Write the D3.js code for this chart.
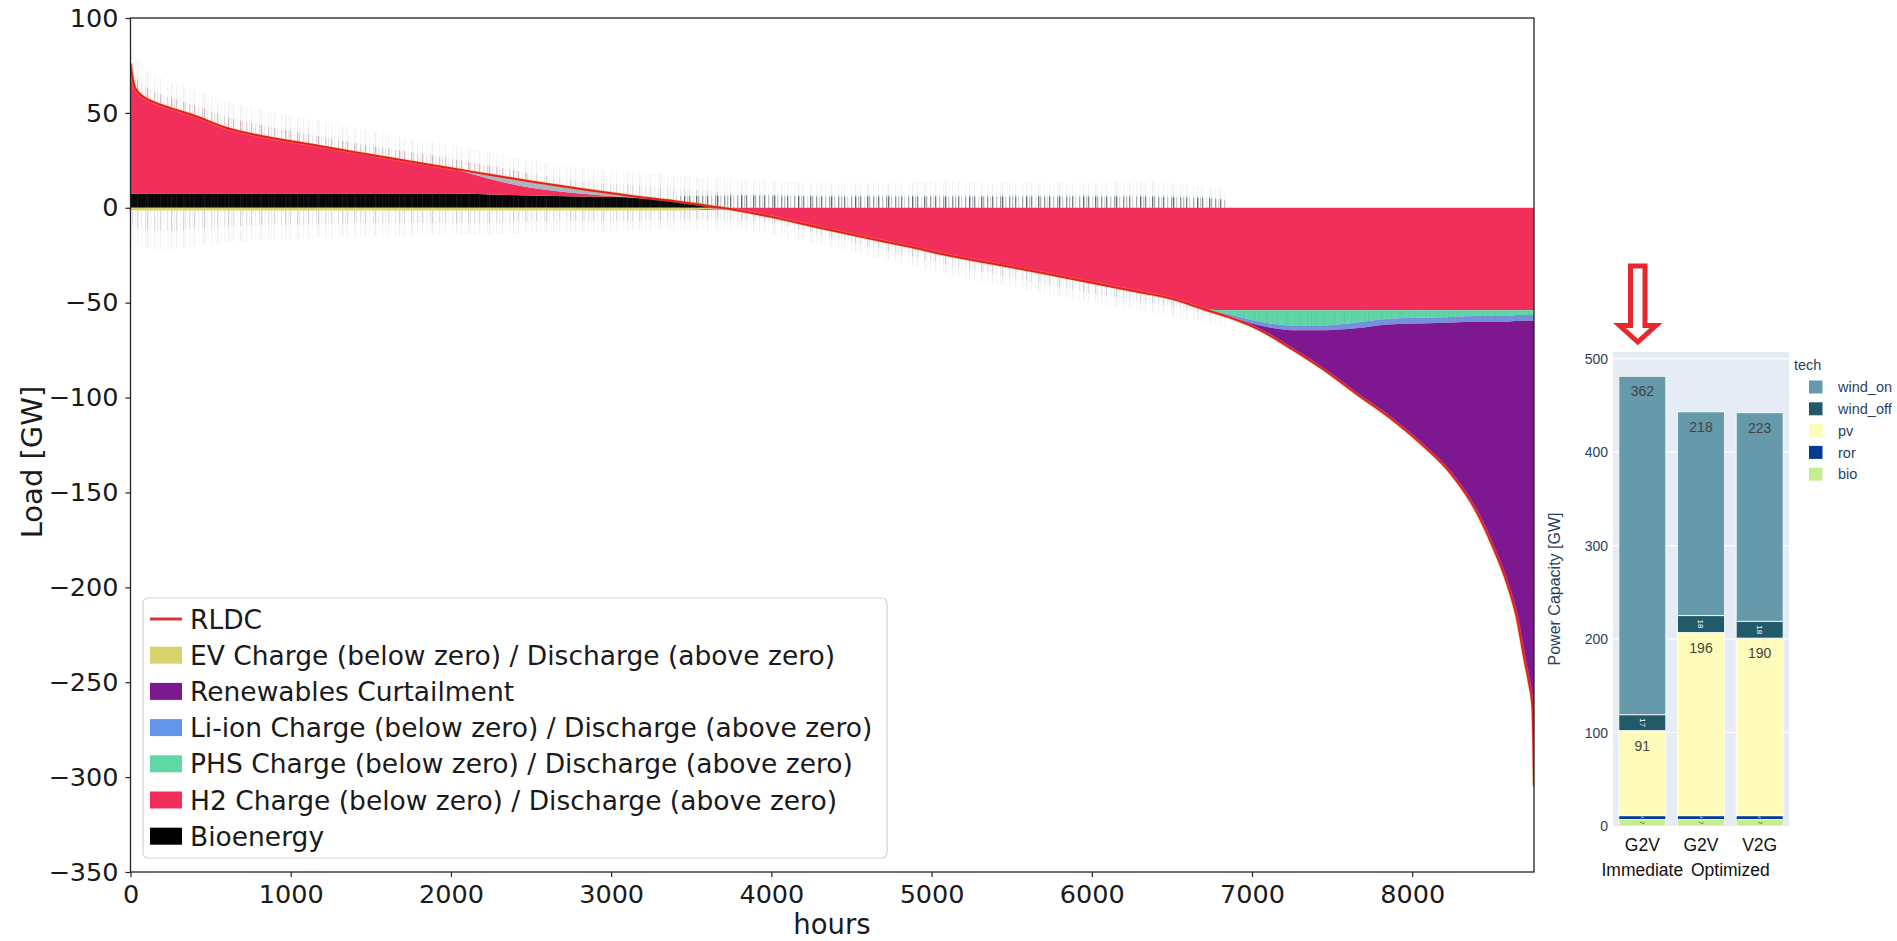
<!DOCTYPE html>
<html><head><meta charset="utf-8">
<script src="https://cdn.jsdelivr.net/npm/d3@7"></script>
<style>body{margin:0;background:#fff;} svg{display:block;}</style>
</head><body>
<svg id="c" width="1897" height="941"></svg>
<script>
// ---------------- LEFT CHART DATA ----------------
const hours = [0,10,30,80,150,250,400,600,850,1100,1400,1700,2000,2250,2500,2800,3100,3400,3750,4000,4300,4600,4850,5100,5400,5700,6000,6300,6500,6700,6850,7050,7250,7450,7650,7850,8050,8250,8400,8500,8600,8650,8700,8730,8750,8760];
const rldc = [76,70,63,58.5,55.5,52.5,48.5,42,37.3,33.7,29.3,25,20.8,17.3,13.8,10,6.5,3.5,-0.8,-4.8,-10.5,-16,-20.3,-25,-29.8,-34.5,-39.5,-44.5,-48,-53.5,-57.5,-64.5,-74.5,-85.5,-98,-110,-124,-141,-160,-178,-200,-215,-238,-251,-263,-305];
// positive side (stacked upward from zero)
const bioenergy   = [7.5,7.5,7.5,7.5,7.5,7.5,7.5,7.5,7.5,7.5,7.5,7.5,7.5,7,6.5,6,5.5,3.5,0,0,0,0,0,0,0,0,0,0,0,0,0,0,0,0,0,0,0,0,0,0,0,0,0,0,0,0];
const h2Discharge = [68.5,62.5,55.5,51,48,45,41,34.5,29.8,26.2,21.8,17.5,13.3,8,4,1.5,0,0,0,0,0,0,0,0,0,0,0,0,0,0,0,0,0,0,0,0,0,0,0,0,0,0,0,0,0,0];
const storageDischarge = [0,0,0,0,0,0,0,0,0,0,0,0,0,2.3,3.3,2.5,1,0,0,0,0,0,0,0,0,0,0,0,0,0,0,0,0,0,0,0,0,0,0,0,0,0,0,0,0,0];
// negative side (stacked downward from zero)
const evCharge    = [-1.5,-1.5,-1.5,-1.5,-1.5,-1.5,-1.5,-1.5,-1.5,-1.5,-1.5,-1.5,-1.5,-1.5,-1.5,-1.5,-1.5,-1.5,0,0,0,0,0,0,0,0,0,0,0,0,0,0,0,0,0,0,0,0,0,0,0,0,0,0,0,0];
const h2Charge    = [0,0,0,0,0,0,0,0,0,0,0,0,0,0,0,0,0,0,-0.8,-4.8,-10.5,-16,-20.3,-25,-29.8,-34.5,-39.5,-44.5,-48,-53.5,-54,-54,-54,-54,-54,-54,-54,-54,-54,-54,-54,-54,-54,-54,-54,-54];
const phsCharge   = [0,0,0,0,0,0,0,0,0,0,0,0,0,0,0,0,0,0,0,0,0,0,0,0,0,0,0,0,0,0,-2,-6,-8,-8,-6.5,-4.5,-4,-3.5,-3,-3,-3,-2.5,-2.5,-2.5,-2.5,-2.5];
const liionCharge = [0,0,0,0,0,0,0,0,0,0,0,0,0,0,0,0,0,0,0,0,0,0,0,0,0,0,0,0,0,0,-1,-2,-2.5,-2.5,-3,-3,-3,-3,-3,-3,-3,-3,-3,-3,-3,-3];
const curtailment = [0,0,0,0,0,0,0,0,0,0,0,0,0,0,0,0,0,0,0,0,0,0,0,0,0,0,0,0,0,0,-0.5,-2.5,-10,-21,-34.5,-48.5,-63,-80.5,-100,-118,-140,-155.5,-178.5,-191.5,-203.5,-245.5];
// envelopes of the hourly spikes
const spikeTopFar  = [86,84,80,74,70,66,62,56,51,47,42,37,33,29,25,21,19,17,15,14,13,13,13,14,13,13,13,14,13,11,9,null,null,null,null,null,null,null,null,null,null,null,null,null,null,null];
const spikeTopNear = [80,76,70,65,61,58,54,48,43,39,34,30,26,22,18,14,12,10,8,7,7,7,7,7,7,7,7,7,7,6,5,null,null,null,null,null,null,null,null,null,null,null,null,null,null,null];
const bioSpikes    = [null,null,null,null,null,null,null,null,null,null,null,null,null,null,null,null,null,6,6.5,6.5,6,6,6,6,6,6,6,6,5.5,5,4,null,null,null,null,null,null,null,null,null,null,null,null,null,null,null];
const spikeLowNear = [-8,-9,-10,-11,-12,-12,-11,-10,-9,-9,-8,-8,-8,-8,-7,-7,-7,-6,-6,-8,-14,-20,-25,-30,-35,-40,-45,-49,-52,-56,-59,null,null,null,null,null,null,null,null,null,null,null,null,null,null,null];
const spikeLowFar  = [-14,-16,-18,-20,-22,-22,-20,-18,-17,-16,-15,-15,-14,-14,-13,-13,-12,-12,-11,-14,-19,-25,-30,-35,-40,-45,-50,-54,-57,-60,-62,null,null,null,null,null,null,null,null,null,null,null,null,null,null,null];
const yTicks = [100,50,0,-50,-100,-150,-200,-250,-300,-350];
const xTicks = [0,1000,2000,3000,4000,5000,6000,7000,8000];
const legendLabels = ["RLDC","EV Charge (below zero) / Discharge (above zero)","Renewables Curtailment","Li-ion Charge (below zero) / Discharge (above zero)","PHS Charge (below zero) / Discharge (above zero)","H2 Charge (below zero) / Discharge (above zero)","Bioenergy"];

// ---------------- RIGHT CHART DATA ----------------
const scenarios = ["G2V Immediate","G2V Optimized","V2G Optimized"];
const scenarioTop = ["G2V","G2V","V2G"];
const techs = ["bio","ror","pv","wind_off","wind_on"];
const bio = [7,7,7];
const ror = [4,4,4];
const pv = [91,196,190];
const wind_off = [17,18,18];
const wind_on = [362,218,223];
const capTicks = [0,100,200,300,400,500];
const legendTechs = ["wind_on","wind_off","pv","ror","bio"];

// ---------------- DRAW ----------------
const svg = d3.select("#c");
svg.append("rect").attr("width",1897).attr("height",941).attr("fill","#fff");
const defs = svg.append("defs");
// hairline texture for the hourly spikes
function hairPattern(id, color){
  const p = defs.append("pattern").attr("id",id).attr("patternUnits","userSpaceOnUse").attr("width",57).attr("height",8);
  const offs = [0,3,5,9,12,14,18,21,23,27,31,33,36,40,43,46,49,53];
  const ops  = [0.9,0.3,0.65,0.15,0.8,0.4,0.55,0.2,0.75,0.3,0.5,0.85,0.25,0.6,0.35,0.7,0.2,0.45];
  offs.forEach((o,i)=>p.append("rect").attr("x",o).attr("y",0).attr("width",1.3).attr("height",8).attr("fill",color).attr("opacity",ops[i]));
}
hairPattern("hGray","#7b8794");
hairPattern("hDark","#1f3038");
hairPattern("hRed","#d0506f");

const FONT = "DejaVu Sans, Verdana, sans-serif";
const x = d3.scaleLinear().domain([0,8760]).range([130.5,1534]);
const y = d3.scaleLinear().domain([-350,100]).range([872,18]);
const idx = d3.range(hours.length);

const cum = (arrs) => idx.map(i => arrs.reduce((s,a)=>s+a[i],0));
const zero = idx.map(()=>0);
const posBio = cum([bioenergy]);
const posH2 = cum([bioenergy,h2Discharge]);
const posSt = cum([bioenergy,h2Discharge,storageDischarge]);
const negEv = cum([evCharge]);
const negH2 = cum([evCharge,h2Charge]);
const negPhs = cum([evCharge,h2Charge,phsCharge]);
const negLi = cum([evCharge,h2Charge,phsCharge,liionCharge]);
const negCu = cum([evCharge,h2Charge,phsCharge,liionCharge,curtailment]);

const gL = svg.append("g");
const clip = defs.append("clipPath").attr("id","plotclip");
clip.append("rect").attr("x",130.5).attr("y",18).attr("width",1403.5).attr("height",854);
const gP = gL.append("g").attr("clip-path","url(#plotclip)");

function band(lo, hi, fill, opacity){
  const a = d3.area().defined(i=>lo[i]!=null && hi[i]!=null).curve(d3.curveMonotoneX)
    .x(i=>x(hours[i])).y0(i=>y(lo[i])).y1(i=>y(hi[i]));
  gP.append("path").attr("d",a(idx)).attr("fill",fill).attr("opacity",opacity==null?1:opacity);
}
// spikes around the stacks
const topLower = idx.map(i => spikeTopFar[i]==null?null:Math.max(posSt[i],0));
band(topLower, spikeTopFar, "url(#hGray)", 0.16);
band(topLower, spikeTopNear, "url(#hGray)", 0.28);
band(topLower.map((v,i)=>i<15?v:null), spikeTopNear.map((v,i)=>i<15?v:null), "url(#hRed)", 0.3);
const lowUpper = idx.map(i => spikeLowFar[i]==null?null:(i<18?negEv[i]:rldc[i]));
band(spikeLowFar, lowUpper, "url(#hGray)", 0.16);
band(spikeLowNear, lowUpper, "url(#hGray)", 0.3);

// stacked series
band(zero, posBio, "#050505");
band(posBio, posH2, "#f22e5a");
band(posH2, posSt, "#9aa9bd", 0.85);
band(negEv, zero, "#d8d36c");
band(negH2, negEv, "#f22e5a");
band(negPhs, negH2, "#5ed8a6");
band(negLi, negPhs, "#7393e0");
band(negCu, negLi, "#7e1891");
// storage streaks across the PHS/Li-ion strip
band(negLi, negPhs, "url(#hGray)", 0.3);
band(negPhs, negH2, "url(#hGray)", 0.25);
// bioenergy spikes in the mid range
band(idx.map(i=>bioSpikes[i]==null?null:0), bioSpikes, "url(#hDark)", 0.75);
// gray streaks within the black band
band(zero.map((v,i)=>i<18?v:null), posBio.map((v,i)=>i<18?v:null), "url(#hGray)", 0.18);

// RLDC line
const line = d3.line().curve(d3.curveMonotoneX).x(i=>x(hours[i])).y(i=>y(rldc[i]));
gP.append("path").attr("d",line(idx)).attr("fill","none").attr("stroke","#f0a040").attr("stroke-width",3.4).attr("opacity",0.45);
gP.append("path").attr("d",line(idx)).attr("fill","none").attr("stroke","#e3201f").attr("stroke-width",2);

// axes
const fmt = d => d<0 ? "\u2212"+Math.abs(d) : String(d);
const ax = gL.append("g").attr("transform","translate(130.5,0)")
  .call(d3.axisLeft(y).tickValues(yTicks).tickFormat(fmt).tickSizeInner(5).tickSizeOuter(0).tickPadding(7));
const bx = gL.append("g").attr("transform","translate(0,872)")
  .call(d3.axisBottom(x).tickValues(xTicks).tickFormat(fmt).tickSizeInner(5).tickSizeOuter(0).tickPadding(8));
[ax,bx].forEach(g=>{
  g.select(".domain").remove();
  g.selectAll("line").attr("stroke","#222").attr("stroke-width",1.2);
  g.selectAll("text").attr("fill","#1a1a1a").style("font-family",FONT).style("font-size","25.5px");
});
gL.append("rect").attr("x",130.5).attr("y",18).attr("width",1403.5).attr("height",854)
  .attr("fill","none").attr("stroke","#222").attr("stroke-width",1.3);
gL.append("text").attr("transform","translate(32,462) rotate(-90)").attr("text-anchor","middle")
  .attr("dy","0.35em").style("font-family",FONT).style("font-size","29px").attr("fill","#1a1a1a").text("Load [GW]");
gL.append("text").attr("x",832).attr("y",934).attr("text-anchor","middle")
  .style("font-family",FONT).style("font-size","27.5px").attr("fill","#1a1a1a").text("hours");

// legend
const legColors = ["#d0383a","#d8d36c","#7e1891","#6495ed","#5ed8a6","#f22e5a","#000000"];
const lg = gL.append("g");
lg.append("rect").attr("x",143).attr("y",598).attr("width",744).attr("height",260).attr("rx",5)
  .attr("fill","#fff").attr("fill-opacity",0.85).attr("stroke","#d6d6d6").attr("stroke-width",1.2);
legendLabels.forEach((t,i)=>{
  const cy = 619 + i*36.2;
  if(i===0){
    lg.append("line").attr("x1",150).attr("x2",182).attr("y1",cy).attr("y2",cy).attr("stroke",legColors[i]).attr("stroke-width",3);
  } else {
    lg.append("rect").attr("x",150).attr("y",cy-8.5).attr("width",32).attr("height",17).attr("fill",legColors[i]);
  }
  lg.append("text").attr("x",190).attr("y",cy).attr("dy","0.36em").style("font-family",FONT).style("font-size","26.5px").attr("fill","#1a1a1a").text(t);
});

// ---------------- RIGHT CHART ----------------
const PF = "'Liberation Sans', Arial, sans-serif";
const gR = svg.append("g");
const xR = d3.scaleBand().domain(scenarios).range([1613,1789]).paddingInner(0.2).paddingOuter(0.1);
const yR = d3.scaleLinear().domain([0,507]).range([826,352]);
gR.append("rect").attr("x",1613).attr("y",352).attr("width",176).attr("height",474).attr("fill","#e5ecf6");
capTicks.forEach(t=>{
  if(t>0) gR.append("line").attr("x1",1613).attr("x2",1789).attr("y1",yR(t)).attr("y2",yR(t)).attr("stroke","#fff").attr("stroke-width",1.2);
  gR.append("text").attr("x",1608).attr("y",yR(t)).attr("dy","0.36em").attr("text-anchor","end")
    .style("font-family",PF).style("font-size","14px").attr("fill","#2a3f5f").text(t);
});
const capData = scenarios.map((s,i)=>({scenario:s, bio:bio[i], ror:ror[i], pv:pv[i], wind_off:wind_off[i], wind_on:wind_on[i]}));
const stack = d3.stack().keys(techs)(capData);
const techColor = {wind_on:"#6699aa", wind_off:"#235a69", pv:"#fffcbb", ror:"#033b95", bio:"#c5ec8f"};
const techText = {wind_on:"#444", wind_off:"#fff", pv:"#444", ror:"#fff", bio:"#444"};
stack.forEach(layer=>{
  layer.forEach(d=>{
    const xx = xR(d.data.scenario), w = xR.bandwidth();
    const y0 = yR(d[0]), y1 = yR(d[1]), h = y0-y1;
    gR.append("rect").attr("x",xx).attr("y",y1).attr("width",w).attr("height",h)
      .attr("fill",techColor[layer.key]).attr("stroke","#fff").attr("stroke-width",0.8);
    const val = String(d.data[layer.key]);
    if(h > 24){
      gR.append("text").attr("x",xx+w/2).attr("y",y1+15).attr("dy","0.36em").attr("text-anchor","middle")
        .style("font-family",PF).style("font-size","14px").attr("fill",techText[layer.key]).text(val);
    } else {
      const fs = Math.max(3.5, Math.min(8, (h-3)/(val.length*0.62)));
      gR.append("text").attr("transform",`translate(${xx+w/2},${(y0+y1)/2}) rotate(90)`)
        .attr("dy","0.35em").attr("text-anchor","middle")
        .style("font-family",PF).style("font-size",fs+"px").attr("fill",techText[layer.key]).text(val);
    }
  });
});
// category labels
const CF = "'Liberation Sans', Arial, sans-serif";
scenarios.forEach((s,i)=>{
  gR.append("text").attr("x",xR(s)+xR.bandwidth()/2).attr("y",851).attr("text-anchor","middle")
    .style("font-family",CF).style("font-size","17.5px").attr("fill","#111").text(scenarioTop[i]);
});
gR.append("text").attr("x",xR(scenarios[0])+xR.bandwidth()/2).attr("y",876).attr("text-anchor","middle")
  .style("font-family",CF).style("font-size","17.5px").attr("fill","#111").text("Immediate");
gR.append("text").attr("x",(xR(scenarios[1])+xR(scenarios[2])+xR.bandwidth())/2).attr("y",876).attr("text-anchor","middle")
  .style("font-family",CF).style("font-size","17.5px").attr("fill","#111").text("Optimized");
// y title
gR.append("text").attr("transform","translate(1554,589) rotate(-90)").attr("text-anchor","middle").attr("dy","0.35em")
  .style("font-family",PF).style("font-size","16px").attr("fill","#2a3f5f").text("Power Capacity [GW]");
// legend
gR.append("text").attr("x",1794).attr("y",370).style("font-family",PF).style("font-size","14.5px").attr("fill","#2a3f5f").text("tech");
legendTechs.forEach((t,i)=>{
  const cy = 387 + i*21.8;
  gR.append("rect").attr("x",1809).attr("y",cy-6.5).attr("width",13.5).attr("height",13).attr("fill",techColor[t]);
  gR.append("text").attr("x",1838).attr("y",cy).attr("dy","0.36em").style("font-family",PF).style("font-size","14.5px").attr("fill","#2a3f5f").text(t);
});
// red hollow arrow pointing at first bar
gR.append("path").attr("d","M1630.5,266 L1645,266 L1645,325.5 L1656,325.5 L1637.8,342 L1619.5,325.5 L1630.5,325.5 Z")
  .attr("fill","#fff").attr("stroke","#e8262d").attr("stroke-width",5).attr("stroke-linejoin","miter");
</script>
</body></html>
